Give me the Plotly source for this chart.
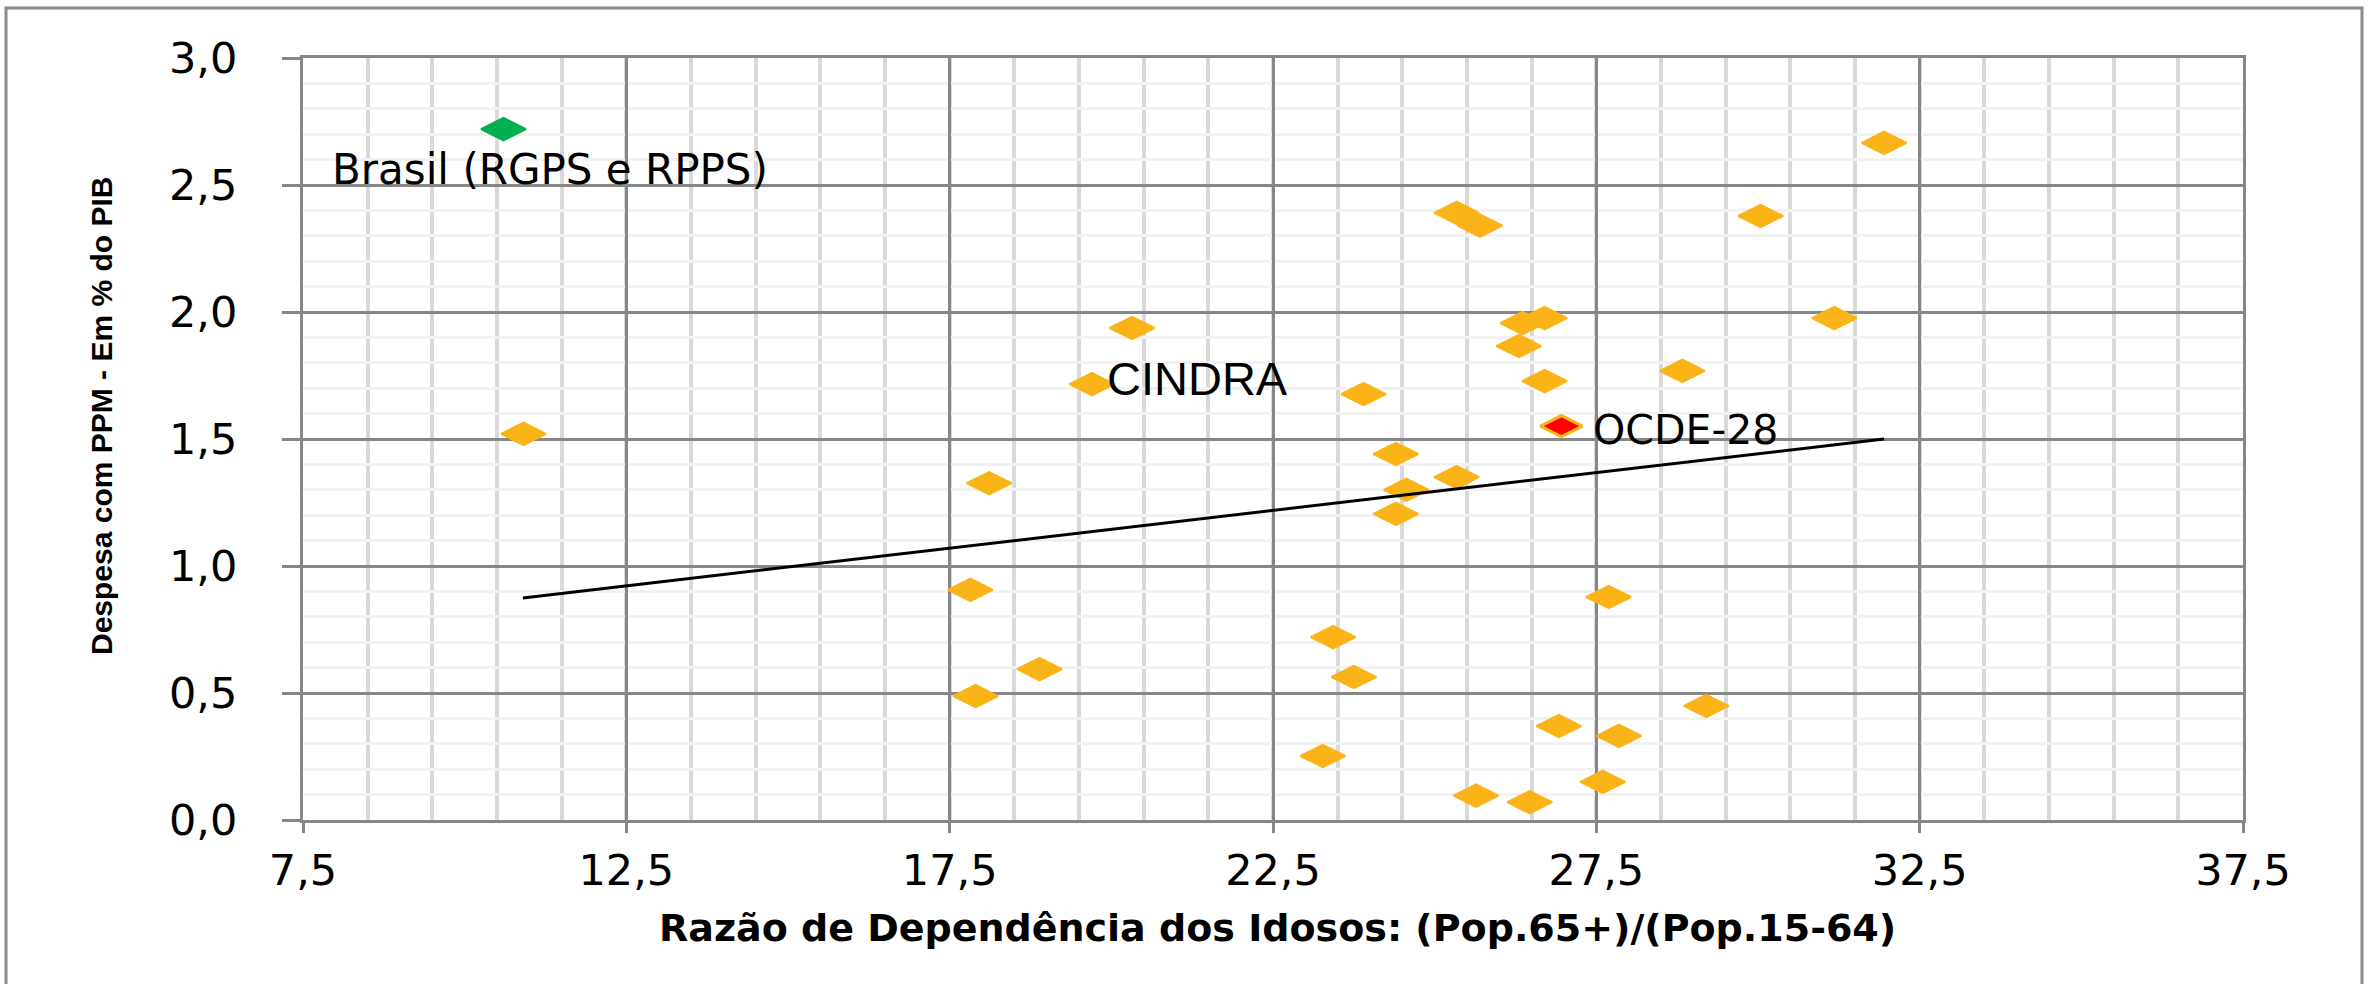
import plotly.graph_objects as go

# ---- data ----
paises_x = [10.91, 17.82, 17.90, 18.11, 18.89, 19.70, 20.32, 23.27, 23.43, 23.75,
            23.90, 24.40, 24.40, 24.56, 25.34, 25.34, 25.70, 25.64, 26.30, 26.36,
            26.47, 26.70, 26.70, 27.60, 27.69, 27.85, 26.92, 28.83, 29.20, 30.04,
            31.18, 31.95]
paises_y = [1.52, 0.906, 0.488, 1.326, 0.594, 1.716, 1.937, 0.252, 0.720, 0.563,
            1.677, 1.441, 1.205, 1.300, 1.350, 2.390, 2.340, 0.096, 1.866, 1.956,
            0.070, 1.976, 1.728, 0.150, 0.878, 0.331, 0.370, 1.768, 0.449, 2.378,
            1.976, 2.666]

ocde_x = [26.96]
ocde_y = [1.551]

brasil_x = [10.60]
brasil_y = [2.72]

trend_x = [10.90, 31.95]
trend_y = [0.874, 1.500]

x_ticks = [7.5, 12.5, 17.5, 22.5, 27.5, 32.5, 37.5]
x_ticktext = ["7,5", "12,5", "17,5", "22,5", "27,5", "32,5", "37,5"]
y_ticks = [0.0, 0.5, 1.0, 1.5, 2.0, 2.5, 3.0]
y_ticktext = ["0,0", "0,5", "1,0", "1,5", "2,0", "2,5", "3,0"]

x_title = "Razão de Dependência dos Idosos: (Pop.65+)/(Pop.15-64)"
y_title = "Despesa com PPM - Em % do PIB"

# ---- styles ----
ORANGE = "#FAB418"
RED = "#FF0000"
GREEN = "#00B050"
MAJOR = "#878787"
MINOR_V = "#D9D9D9"
MINOR_H = "#F2F2F2"

W, H = 2374, 984
L, R, T, B = 303, 131, 58, 164
PW, PH = W - L - R, H - T - B

fig = go.Figure()
fig.add_trace(go.Scatter(
    x=paises_x, y=paises_y, mode="markers",
    marker=dict(symbol="diamond-wide", size=32, color=ORANGE,
                line=dict(color=ORANGE, width=2)),
    showlegend=False, hoverinfo="skip"))
fig.add_trace(go.Scatter(
    x=trend_x, y=trend_y, mode="lines",
    line=dict(color="black", width=3), showlegend=False, hoverinfo="skip"))
fig.add_trace(go.Scatter(
    x=ocde_x, y=ocde_y, mode="markers",
    marker=dict(symbol="diamond-wide", size=30, color=RED,
                line=dict(color=ORANGE, width=3)),
    showlegend=False, hoverinfo="skip"))
fig.add_trace(go.Scatter(
    x=brasil_x, y=brasil_y, mode="markers",
    marker=dict(symbol="diamond-wide", size=32, color=GREEN,
                line=dict(color=GREEN, width=2)),
    showlegend=False, hoverinfo="skip"))

tick_font = dict(family="DejaVu Sans", size=43, color="black")

fig.update_xaxes(
    range=[7.5, 37.5], tickvals=x_ticks, ticktext=x_ticktext,
    showgrid=True, gridcolor=MAJOR, gridwidth=3,
    showline=True, linecolor=MAJOR, linewidth=3, mirror=True,
    ticks="outside", ticklen=10, tickwidth=3, tickcolor=MAJOR,
    tickfont=tick_font, ticklabelstandoff=0,
    minor=dict(dtick=1, tick0=7.5, showgrid=True, gridcolor=MINOR_V, gridwidth=3.5, ticks=""),
    zeroline=False, automargin=False)
fig.update_yaxes(
    range=[0, 3.0], tickvals=y_ticks, ticktext=y_ticktext,
    showgrid=True, gridcolor=MAJOR, gridwidth=3,
    showline=True, linecolor=MAJOR, linewidth=3, mirror=True,
    ticks="outside", ticklen=18, tickwidth=3, tickcolor=MAJOR,
    tickfont=tick_font, ticklabelstandoff=36,
    minor=dict(dtick=0.1, tick0=0, showgrid=True, gridcolor=MINOR_H, gridwidth=3, ticks=""),
    zeroline=False, automargin=False)

def px_x(p):
    return (p - L) / PW

def px_y(p):
    return (H - B - p) / PH

annotations = [
    dict(text=y_title, xref="paper", yref="paper", x=px_x(101), y=px_y(416),
         textangle=-90, showarrow=False, xanchor="center", yanchor="middle",
         font=dict(family="Liberation Sans", size=30, color="black", weight="bold")),
    dict(text=x_title, xref="paper", yref="paper", x=px_x(1277), y=px_y(928),
         showarrow=False, xanchor="center", yanchor="middle",
         font=dict(family="DejaVu Sans", size=38, color="black", weight="bold")),
    dict(text="Brasil (RGPS e RPPS)", xref="x", yref="y", x=7.92, y=2.56,
         showarrow=False, xanchor="left", yanchor="middle",
         font=dict(family="DejaVu Sans", size=42, color="black")),
    dict(text="CINDRA", xref="x", yref="y", x=21.33, y=1.74,
         showarrow=False, xanchor="center", yanchor="middle",
         font=dict(family="Liberation Sans", size=47, color="black")),
    dict(text="OCDE-28", xref="x", yref="y", x=27.42, y=1.535,
         showarrow=False, xanchor="left", yanchor="middle",
         font=dict(family="DejaVu Sans", size=41, color="black")),
]

shapes = [
    dict(type="rect", xref="paper", yref="paper",
         x0=px_x(6), x1=px_x(2362), y0=px_y(995), y1=px_y(8),
         line=dict(color="#8A8A8A", width=3), fillcolor="rgba(0,0,0,0)", layer="below"),
]

fig.update_layout(
    width=W, height=H, autosize=False,
    margin=dict(l=L, r=R, t=T, b=B, pad=0),
    paper_bgcolor="white", plot_bgcolor="white",
    showlegend=False, annotations=annotations, shapes=shapes,
)

fig.write_html(
    "out.html",
    config={"displayModeBar": False},
    post_script="document.body.style.margin='0';document.body.style.overflow='hidden';",
)
